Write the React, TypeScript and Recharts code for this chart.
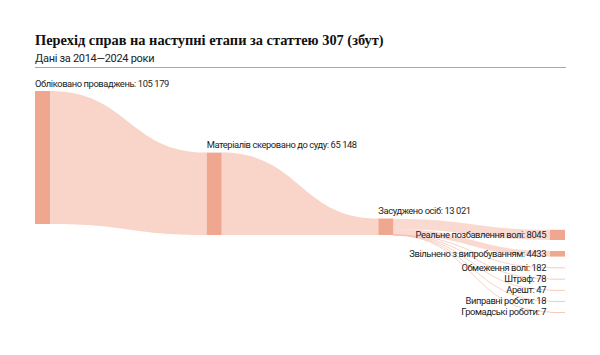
import { Sankey } from "recharts";

// stages of the case pipeline (art. 307)
const stageNames = ["Обліковано проваджень", "Матеріалів скеровано до суду", "Засуджено осіб"];
const stageValues = [105179, 65148, 13021];

// sentences handed down
const outcomeNames = [
  "Реальне позбавлення волі",
  "Звільнено з випробуванням",
  "Обмеження волі",
  "Штраф",
  "Арешт",
  "Виправні роботи",
  "Громадські роботи",
];
const outcomeValues = [8045, 4433, 182, 78, 47, 18, 7];

const NODE_COLOR = "#f0a78f";
const FLOW_COLOR = "#f9d4c8";
const THIN_COLOR = "#f5c0b0";
const TEXT_COLOR = "#222";
const LABEL_FONT = "Roboto, sans-serif";
const LABEL_SIZE = 9.4;
const LABEL_TRACK = -0.42;

// hidden helper nodes keep the drop-outs in the layout so columns stay aligned
const dropAfterFirst = stageValues[0] - stageValues[1];
const dropAfterSecond = stageValues[1] - stageValues[2];
const unaccounted = stageValues[2] - outcomeValues.reduce((a, b) => a + b, 0);

const nodes = [
  { name: stageNames[0], role: "stage" },
  { name: "", hidden: true },
  { name: stageNames[1], role: "stage" },
  { name: "", hidden: true },
  { name: stageNames[2], role: "stage" },
  { name: "", hidden: true },
  { name: "", hidden: true },
  ...outcomeNames.map((name) => ({ name, role: "outcome" })),
];

const OUT0 = 7;
const links = [
  { source: 0, target: 2, value: stageValues[1], kind: "flow" },
  { source: 0, target: 1, value: dropAfterFirst, hidden: true },
  { source: 2, target: 4, value: stageValues[2], kind: "flow" },
  { source: 2, target: 3, value: dropAfterSecond, hidden: true },
  { source: 1, target: 3, value: dropAfterFirst, hidden: true },
  { source: 3, target: 5, value: dropAfterFirst + dropAfterSecond, hidden: true },
  { source: 4, target: 5, value: unaccounted, hidden: true },
  { source: 3, target: 6, value: 0.001, hidden: true },
  ...outcomeValues.map((value, i) => ({ source: 4, target: OUT0 + i, value, kind: "band" })),
];

const fmt = (n: number) => {
  const v = Math.round(n);
  return v >= 10000 ? String(v).replace(/\B(?=(\d{3})+(?!\d))/g, " ") : String(v);
};

function StageNode(props: any) {
  const { x, y, width, height, payload } = props;
  if (payload.hidden) return <g />;
  const label = `${payload.name}: ${fmt(payload.value)}`;
  if (payload.role === "outcome") {
    return (
      <g>
        <rect x={x} y={y} width={width} height={Math.max(height, 0.6)} fill={NODE_COLOR} />
        <text
          x={x - 4}
          y={y + height / 2}
          textAnchor="end"
          dominantBaseline="central"
          fontSize={LABEL_SIZE}
          letterSpacing={LABEL_TRACK}
          fontFamily={LABEL_FONT}
          fill={TEXT_COLOR}
        >
          {label}
        </text>
      </g>
    );
  }
  return (
    <g>
      <rect x={x} y={y} width={width} height={height} fill={NODE_COLOR} />
      <text
        x={x}
        y={y - 4.5}
        fontSize={LABEL_SIZE}
        letterSpacing={LABEL_TRACK}
        fontFamily={LABEL_FONT}
        fill={TEXT_COLOR}
      >
        {label}
      </text>
    </g>
  );
}

function FlowLink(props: any) {
  const { sourceX, targetX, sourceY, targetY, sourceControlX, targetControlX, linkWidth, payload } = props;
  if (payload.hidden) return <g />;
  if (payload.kind === "flow") {
    // stage-to-stage flow spans the whole source node down to the whole target node
    const sy = props.sourceRelativeY ?? payload.sy ?? 0;
    const ty = props.targetRelativeY ?? payload.ty ?? 0;
    const s0 = sourceY - linkWidth / 2 - sy;
    const s1 = s0 + payload.source.dy;
    const t0 = targetY - linkWidth / 2 - ty;
    const t1 = t0 + payload.target.dy;
    const mx = (sourceX + targetX) / 2;
    const d = `M${sourceX},${s0} C${mx},${s0} ${mx},${t0} ${targetX},${t0} L${targetX},${t1} C${mx},${t1} ${mx},${s1} ${sourceX},${s1} Z`;
    return <path d={d} fill={FLOW_COLOR} stroke="none" />;
  }
  const thin = linkWidth < 1;
  return (
    <path
      d={`M${sourceX},${sourceY} C${sourceControlX},${sourceY} ${targetControlX},${targetY} ${targetX},${targetY}`}
      fill="none"
      stroke={thin ? THIN_COLOR : FLOW_COLOR}
      strokeWidth={thin ? 0.8 : linkWidth}
      strokeOpacity={thin ? 0.9 : 0.85}
    />
  );
}

export default function App() {
  return (
    <div style={{ position: "absolute", left: 0, top: 0, width: 600, height: 355, background: "#fff" }}>
      <div
        style={{
          position: "absolute",
          left: 35,
          top: 30,
          fontFamily: "'Liberation Serif', serif",
          fontWeight: 700,
          fontSize: 14.4,
          lineHeight: "20px",
          color: "#111",
          whiteSpace: "nowrap",
        }}
      >
        Перехід справ на наступні етапи за статтею 307 (збут)
      </div>
      <div
        style={{
          position: "absolute",
          left: 35,
          top: 52,
          fontFamily: LABEL_FONT,
          fontSize: 11,
          letterSpacing: -0.3,
          lineHeight: "14px",
          color: "#222",
          whiteSpace: "nowrap",
        }}
      >
        Дані за 2014—2024 роки
      </div>
      <div style={{ position: "absolute", left: 35, top: 66.5, width: 531, height: 1, background: "#a8a8a8" }} />
      <div style={{ position: "absolute", left: 0, top: 0 }}>
        <Sankey
          width={600}
          height={322}
          data={{ nodes, links }}
          nodeWidth={15}
          nodePadding={11}
          iterations={0}
          margin={{ top: 91, left: 35, right: 35, bottom: 10 }}
          node={StageNode}
          link={FlowLink}
        />
      </div>
    </div>
  );
}
